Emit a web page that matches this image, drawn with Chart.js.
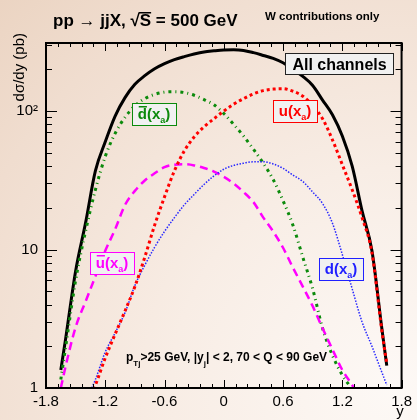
<!DOCTYPE html>
<html>
<head>
<meta charset="utf-8">
<script src="https://cdn.jsdelivr.net/npm/chart.js@4.4.1/dist/chart.umd.min.js"></script>
<style>
  html, body { margin: 0; padding: 0; }
  #wrap {
    width: 417px; height: 420px;
    background: radial-gradient(ellipse at 95% 92%, #fdf9f6 0%, #f8ede5 40%, #f0ddcf 80%, #ebd4c2 100%);
  }
</style>
</head>
<body>
<div id="wrap"><canvas id="xsChart" width="417" height="420"></canvas></div>
<script>
// rapidity y of the jet
const rapidity = [-1.65, -1.6, -1.5, -1.4, -1.3, -1.2, -1.1, -1.0, -0.9, -0.8, -0.7, -0.6, -0.5, -0.4, -0.3, -0.2, -0.1, 0,
  0.1, 0.2, 0.3, 0.4, 0.5, 0.6, 0.7, 0.8, 0.9, 1.0, 1.1, 1.2, 1.3, 1.4, 1.5, 1.6, 1.65];

// dsigma/dy (pb)
const allChannels = [1.35, 2.3, 7.0, 15.5, 37, 60, 92, 125, 156, 180, 202, 220, 235, 247, 258, 267, 272, 276,
  277, 274, 264, 252, 240, 223, 200, 178, 153, 120, 94, 66, 40, 19, 9.8, 2.7, 1.45];
const dbarXa = [1.15, 2.0, 6.0, 13.5, 27, 47, 69, 90, 109, 123, 132, 137, 138, 136, 130, 121, 111, 96,
  80, 66, 53, 42, 32, 22.5, 15, 8.8, 5.2, 2.7, 1.72, 1.24, 0.98, null, null, null, null];
const ubarXa = [1.0, 1.45, 2.75, 4.2, 6.4, 9.8, 14, 21, 26.5, 31.5, 35.5, 39.3, 41, 41.3, 40.5, 38.8, 36.5, 33.5,
  30, 26, 22, 17, 13.5, 10.3, 7.4, 5.4, 3.9, 2.7, 1.9, 1.35, 1.05, 0.8, null, null, null];
const uXa = [null, null, null, 0.75, 1.05, 1.65, 2.45, 3.6, 5.4, 8.8, 15, 24, 37, 51.5, 65, 77, 88, 100,
  112, 123, 133, 140.5, 144, 145, 139, 128, 110, 88, 62, 41, 27, 17, 9.5, 2.6, 1.5];
const dXa = [null, null, null, 0.8, 1.15, 1.82, 2.5, 3.5, 5.5, 7.7, 10.4, 13.5, 17, 21, 25, 29.5, 34, 38,
  40.5, 42, 43, 43, 41.5, 38.5, 34.5, 31, 26, 21.5, 15.5, 9.2, 5.2, 3.0, 2.0, 1.3, 1.05];

const xTicks = [-1.8, -1.2, -0.6, 0, 0.6, 1.2, 1.8];
const yTicks = [1, 2, 3, 4, 5, 6, 7, 8, 9, 10, 20, 30, 40, 50, 60, 70, 80, 90, 100, 200, 300];
const yLabels = { 1: '1', 10: '10', 100: '10\u00b2' };

const FONT = '"Liberation Sans", Arial, Helvetica, sans-serif';

function pts(vals) {
  return rapidity.map((x, i) => ({ x: x, y: vals[i] }));
}

function tag(ctx, x0, y0, w, h, color, base, bar) {
  ctx.fillStyle = '#f1f1f1';
  ctx.fillRect(x0, y0, w, h);
  ctx.strokeStyle = color;
  ctx.lineWidth = 1;
  ctx.strokeRect(x0 + 0.5, y0 + 0.5, w, h);
  ctx.fillStyle = color;
  ctx.font = 'bold 15px ' + FONT;
  const w1 = ctx.measureText(base).width;
  const w2 = ctx.measureText('(x').width;
  const w4 = ctx.measureText(')').width;
  ctx.font = 'bold 9px ' + FONT;
  const w3 = ctx.measureText('a').width;
  let x = x0 + (w - (w1 + w2 + w3 + w4)) / 2;
  const base_y = y0 + 16;
  ctx.font = 'bold 15px ' + FONT;
  ctx.textAlign = 'left';
  ctx.textBaseline = 'alphabetic';
  ctx.fillText(base, x, base_y);
  if (bar) {
    ctx.fillRect(x + 1, base_y - 13, w1 - 1, 1.5);
  }
  x += w1;
  ctx.fillText('(x', x, base_y);
  x += w2;
  ctx.font = 'bold 9px ' + FONT;
  ctx.fillText('a', x, base_y + 4);
  x += w3;
  ctx.font = 'bold 15px ' + FONT;
  ctx.fillText(')', x, base_y);
}

const decor = {
  id: 'decor',
  afterDraw(chart) {
    const ctx = chart.ctx;
    const a = chart.chartArea;
    const xs = chart.scales.x, ys = chart.scales.y;
    ctx.save();

    // tick marks, inside the frame on all sides
    ctx.strokeStyle = '#000';
    ctx.lineWidth = 1;
    ctx.beginPath();
    for (let i = 0; i <= 30; i++) {
      const px = Math.round(xs.getPixelForValue(-1.8 + i * 0.12)) + 0.5;
      const len = i % 5 === 0 ? 8 : 4;
      ctx.moveTo(px, a.bottom); ctx.lineTo(px, a.bottom - len);
      ctx.moveTo(px, a.top); ctx.lineTo(px, a.top + len);
    }
    yTicks.forEach(v => {
      const py = Math.round(ys.getPixelForValue(v)) + 0.5;
      const len = yLabels[v] ? 11 : 6;
      ctx.moveTo(a.left, py); ctx.lineTo(a.left + len, py);
      ctx.moveTo(a.right, py); ctx.lineTo(a.right - len, py);
    });
    ctx.stroke();

    // frame
    ctx.lineWidth = 2;
    ctx.strokeRect(a.left, a.top, a.right - a.left, a.bottom - a.top);

    // boxes
    ctx.fillStyle = '#f1f1f1';
    ctx.fillRect(285, 53, 108, 21);
    ctx.strokeStyle = '#222';
    ctx.lineWidth = 1;
    ctx.strokeRect(285.5, 53.5, 108, 21);
    ctx.fillStyle = '#000';
    ctx.font = 'bold 16px ' + FONT;
    ctx.textAlign = 'center';
    ctx.textBaseline = 'alphabetic';
    ctx.fillText('All channels', 339.5, 70);

    tag(ctx, 132, 103, 44, 22, '#0b8a0b', 'd', true);
    tag(ctx, 273, 100, 44, 22, '#ff0000', 'u', false);
    tag(ctx, 90, 252, 44, 22, '#ff00ff', 'u', true);
    tag(ctx, 319, 258, 44, 22, '#2020ff', 'd', false);

    // title
    ctx.fillStyle = '#000';
    ctx.textAlign = 'left';
    ctx.font = 'bold 17px ' + FONT;
    const t1 = 'pp \u2192 jjX, \u221a';
    ctx.fillText(t1, 53, 26);
    const sx = 53 + ctx.measureText(t1).width;
    const sw = ctx.measureText('S').width;
    ctx.fillText('S = 500 GeV', sx, 26);
    ctx.fillRect(sx - 1, 12, sw + 1, 1.5);

    ctx.font = 'bold 11.5px ' + FONT;
    ctx.fillText('W contributions only', 265, 20);

    // cut text
    let cx = 126;
    const cy = 361;
    const seg = (s, big) => {
      ctx.font = (big ? 'bold 12px ' : 'bold 8px ') + FONT;
      ctx.fillText(s, cx, big ? cy : cy + 5);
      cx += ctx.measureText(s).width;
    };
    seg('p', true); seg('Tj', false); seg('>25 GeV, |y', true); seg('j', false);
    seg('| < 2, 70 < Q < 90 GeV', true);

    // axis titles
    ctx.font = '15px ' + FONT;
    ctx.textAlign = 'center';
    ctx.fillText('y', 400, 416);
    ctx.translate(24, 33);
    ctx.rotate(-Math.PI / 2);
    ctx.textAlign = 'right';
    ctx.fillText('d\u03c3/dy (pb)', 0, 0);
    ctx.restore();
  }
};

const ctx = document.getElementById('xsChart').getContext('2d');
new Chart(ctx, {
  type: 'line',
  data: {
    datasets: [
      { label: 'u(x_a)', data: pts(uXa), borderColor: '#ff0000', borderWidth: 3, borderDash: [3, 3] },
      { label: 'd(x_a)', data: pts(dXa), borderColor: '#2828ff', borderWidth: 1.5, borderDash: [1.5, 1.5] },
      { label: 'ubar(x_a)', data: pts(ubarXa), borderColor: '#ff00ff', borderWidth: 2.5, borderDash: [8, 5] },
      { label: 'dbar(x_a)', data: pts(dbarXa), borderColor: '#0b8a0b', borderWidth: 3, borderDash: [3, 4, 1, 4] },
      { label: 'All channels', data: pts(allChannels), borderColor: '#000000', borderWidth: 3 }
    ]
  },
  options: {
    responsive: false,
    animation: false,
    layout: { padding: { top: 43, right: 12, left: 0, bottom: 0 } },
    elements: {
      point: { radius: 0 },
      line: { cubicInterpolationMode: 'monotone', fill: false }
    },
    plugins: {
      legend: { display: false },
      tooltip: { enabled: false }
    },
    scales: {
      x: {
        type: 'linear',
        min: -1.8,
        max: 1.8,
        afterBuildTicks: s => { s.ticks = xTicks.map(v => ({ value: v })); },
        afterFit: s => { s.height = 32; },
        grid: { display: false, drawTicks: false },
        border: { display: false },
        ticks: {
          color: '#000',
          font: { family: FONT, size: 15 },
          padding: 5,
          maxRotation: 0,
          autoSkip: false,
          callback: v => String(Math.round(v * 10) / 10)
        }
      },
      y: {
        type: 'logarithmic',
        min: 1,
        max: 310,
        afterBuildTicks: s => { s.ticks = yTicks.map(v => ({ value: v })); },
        afterFit: s => { s.width = 46; },
        grid: { display: false, drawTicks: false },
        border: { display: false },
        ticks: {
          color: '#000',
          font: { family: FONT, size: 15 },
          padding: 8,
          autoSkip: false,
          callback: v => yLabels[v] || ''
        }
      }
    }
  },
  plugins: [decor]
});
</script>
</body>
</html>
